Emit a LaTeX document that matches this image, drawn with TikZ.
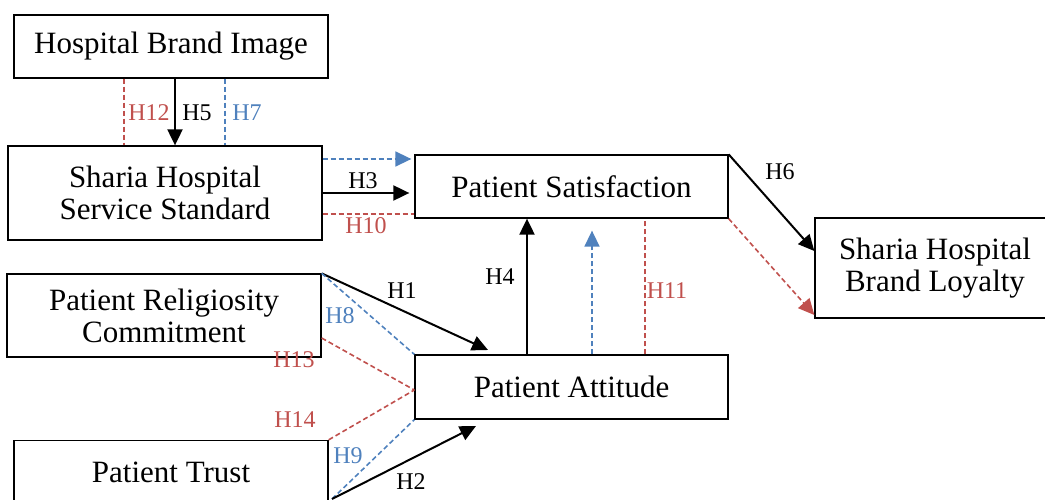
\documentclass[tikz,border=0pt]{standalone}
\usepackage{fontspec}
\setmainfont{Liberation Serif}
\usetikzlibrary{arrows.meta}
\definecolor{hred}{HTML}{C0504D}
\definecolor{hblue}{HTML}{4F81BD}
\begin{document}
\begin{tikzpicture}[x=1pt,y=-1pt,
  box/.style={draw, line width=1.3pt, inner sep=0pt, align=center, font=\fontsize{31}{32}\selectfont},
  lab/.style={font=\fontsize{24}{25}\selectfont, inner sep=0pt},
  tipK/.style={-{Triangle[length=16pt,width=15pt]}},
  arrK/.style={line width=2pt, tipK},
  dR/.style={hred, line width=1.6pt, dash pattern=on 5pt off 3pt},
  dB/.style={hblue, line width=1.6pt, dash pattern=on 5pt off 3pt},
]
\useasboundingbox (0,0) rectangle (1045,500);

% boxes
\node[box, minimum width=314pt, minimum height=63pt] (hbi) at (171,46.5) {Hospital Brand Image};
\node[box, minimum width=314pt, minimum height=94pt] (shss) at (165,193) {Sharia Hospital\\Service Standard};
\node[box, minimum width=313pt, minimum height=63pt] (ps) at (571.5,186.5) {Patient Satisfaction};
\node[box, minimum width=240pt, minimum height=100pt] (bl) at (935,268) {Sharia Hospital\\Brand Loyalty};
\node[box, minimum width=314pt, minimum height=83pt] (prc) at (164,315.5) {Patient Religiosity\\Commitment};
\node[box, minimum width=313pt, minimum height=64pt] (pa) at (571.5,387) {Patient Attitude};
\node[box, minimum width=314pt, minimum height=63pt] (pt) at (171,472) {Patient Trust};

\coordinate (h1end) at (488,350);
\coordinate (t0) at (332,499);
\coordinate (h2end) at (476,426);

% Hospital Brand Image -> Service Standard
\draw[dR] (hbi.south -| 124,0) -- (shss.north -| 124,0);
\draw[arrK] (hbi.south -| 175,0) -- (shss.north -| 175,0);
\draw[dB] (hbi.south -| 225,0) -- (shss.north -| 225,0);
\node[lab, hred] (l12) at (149,113) {H12};
\node[lab] (l5) at (197,113) {H5};
\node[lab, hblue] (l7) at (247,113) {H7};

% Service Standard -> Satisfaction
\draw[dB, tipK, shorten >=3pt] (shss.east |- 0,159) -- (ps.west |- 0,159);
\draw[arrK, shorten >=5pt] (shss.east |- 0,193) -- (ps.west |- 0,193);
\draw[dR] (shss.east |- 0,214) -- (ps.west |- 0,214);
\node[lab] (l3) at (363,181) {H3};
\node[lab, hred] (l10) at (366,226) {H10};

% Satisfaction -> Loyalty
\draw[arrK] (ps.north east) -- (bl.west |- 0,251);
\draw[dR, tipK] (ps.south east) -- (bl.west |- 0,315);
\node[lab] (l6) at (780,172) {H6};

% Attitude -> Satisfaction
\draw[arrK] (pa.north -| 527,0) -- (ps.south -| 527,0);
\draw[dB, tipK, shorten >=12pt] (pa.north -| 592,0) -- (ps.south -| 592,0);
\draw[dR] (pa.north -| 645,0) -- (ps.south -| 645,0);
\node[lab] (l4) at (500,277) {H4};
\node[lab, hred] (l11) at (667,291) {H11};

% Religiosity -> Attitude
\draw[arrK] (prc.north east) -- (h1end);
\draw[dB] (prc.north east) -- (pa.north west);
\draw[dR] (prc.east |- 0,338) -- (pa.west |- 0,390);
\node[lab] (l1) at (402,291) {H1};
\node[lab, hblue] (l8) at (340,316) {H8};
\node[lab, hred] (l13) at (294,360) {H13};

% Trust -> Attitude
\draw[dR] (pt.north east) -- (pa.west |- 0,390);
\draw[dB] (t0) -- (pa.south west);
\draw[arrK] (t0) -- (h2end);
\node[lab, hred] (l14) at (295,420) {H14};
\node[lab, hblue] (l9) at (348,456) {H9};
\node[lab] (l2) at (411,482) {H2};
\end{tikzpicture}
\end{document}
